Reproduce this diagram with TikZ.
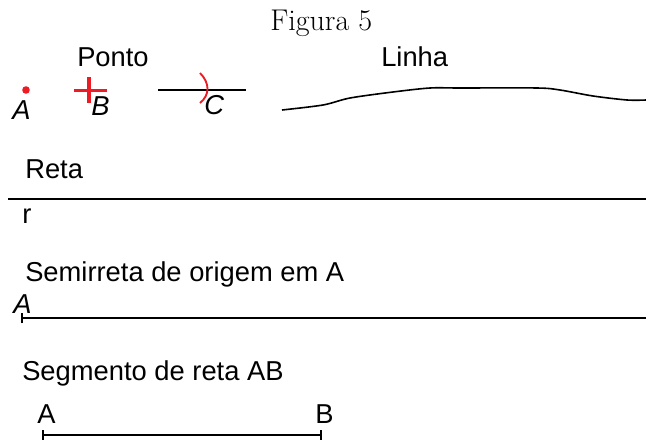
\documentclass[tikz,border=0pt]{standalone}
\usepackage{fontspec}
\setsansfont{Liberation Sans}
\usetikzlibrary{positioning}
\definecolor{pred}{HTML}{ED1C24}
\tikzset{
  x=0.75pt, y=-0.75pt,
  title/.style={font=\fontsize{22.5}{26}\selectfont\rmfamily, inner sep=0pt, anchor=base west},
  lbl/.style={font=\fontsize{20.5}{24}\selectfont\sffamily, inner sep=0pt, anchor=base west},
  ptlbl/.style={font=\fontsize{20.5}{24}\selectfont\sffamily\itshape, inner sep=0pt, anchor=base west},
  ln/.style={line width=1.5pt, draw=black},
  redln/.style={line width=2.6pt, draw=pred}
}
\begin{document}
\begin{tikzpicture}
  \useasboundingbox (0,0) rectangle (646,439);
  \node[title] (fig) at (270,30) {Figura 5};
  % pontos
  \node[lbl] (ponto) at (77,66) {Ponto};
  \node[lbl] (linha) at (381,66) {Linha};
  \fill[pred] (26,90) circle (3.8);
  \node[ptlbl] (lA) at (12,119) {A};
  \draw[redln] (74,90.5) -- (107,90.5);
  \draw[redln] (89,77) -- (89,103);
  \node[ptlbl] (lB) at (91,115) {B};
  \coordinate (c1) at (158,89.5);
  \coordinate (c2) at (246,89.5);
  \draw[ln] (c1) -- (c2);
  \draw[pred, line width=1.4pt] (200,73) .. controls (210,83) and (210,95) .. (200,103);
  \node[ptlbl] (lC) at (204,114) {C};
  % linha
  \draw[ln, line width=1.2pt] plot[smooth, tension=0.5] coordinates {
    (282,110) (323,105) (350,98) (393,92) (430,88) (460,88) (537,88)
    (560,90) (593,96) (627,100) (646,100)};
  % reta
  \node[lbl] (reta) at (25,178) {Reta};
  \coordinate (r1) at (8,199);
  \coordinate (r2) at (646,199);
  \draw[ln] (r1) -- (r2);
  \node[lbl] (lr) at (22,223) {r};
  % semirreta
  \node[lbl] (semi) at (25,281) {Semirreta de origem em A};
  \node[ptlbl] (sA) at (13,313) {A};
  \coordinate (s1) at (22,318);
  \coordinate (s2) at (646,318);
  \draw[ln] (s1) -- (s2);
  \draw[ln] ([yshift=-4]s1) -- ([yshift=4]s1);
  % segmento
  \node[lbl] (segm) at (22,380) {Segmento de reta AB};
  \node[lbl] (gA) at (37,423) {A};
  \node[lbl] (gB) at (315,423) {B};
  \coordinate (g1) at (43,435);
  \coordinate (g2) at (321,435);
  \draw[ln] (g1) -- (g2);
  \draw[ln] ([yshift=-3.5]g1) -- ([yshift=3.5]g1);
  \draw[ln] ([yshift=-3.5]g2) -- ([yshift=3.5]g2);
\end{tikzpicture}
\end{document}
